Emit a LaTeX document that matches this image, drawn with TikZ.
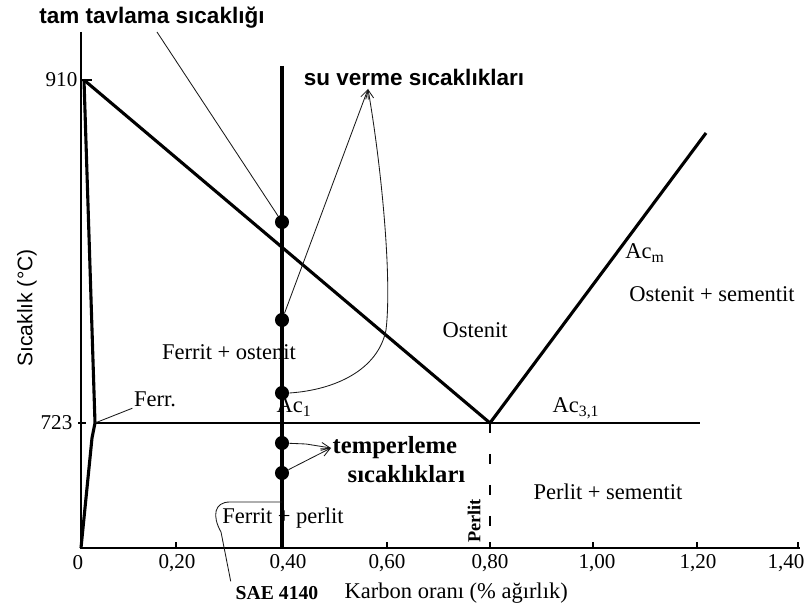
\documentclass[tikz,border=0pt]{standalone}
\usepackage{fontspec}
\setmainfont{Liberation Serif}
\setsansfont{Liberation Sans}
\usetikzlibrary{arrows.meta,positioning,calc}
\definecolor{phaseink}{RGB}{0,0,0}
\definecolor{leaderink}{RGB}{25,25,25}
\tikzset{
  boundary/.style={line width=2.2pt, draw=phaseink},
  axisline/.style={line width=1.3pt, draw=phaseink},
  leader/.style={line width=0.6pt, draw=leaderink},
  barb/.style={-{Straight Barb[length=2.2mm,width=2mm]}},
  heat/.style={circle, fill=phaseink, inner sep=0pt, minimum size=10pt},
  phase/.style={font=\fontsize{16}{18}\selectfont, inner sep=1pt},
  ticklbl/.style={font=\fontsize{15}{17}\selectfont, inner sep=1pt},
  callout/.style={font=\sffamily\bfseries\fontsize{16}{18}\selectfont, inner sep=1pt},
  note/.style={font=\bfseries\fontsize{17.5}{19}\selectfont, inner sep=1pt}
}

\begin{document}
\begin{tikzpicture}[x=0.025cm, y=-0.025cm]
  \useasboundingbox (0,0) rectangle (808,615);

  % axes
  \coordinate (ytop) at (81,32);
  \coordinate (orig) at (81,548);
  \coordinate (xend) at (800,548);
  \draw[axisline] (ytop) -- (orig) -- (xend);
  \foreach \x/\lx/\lbl in {176/177/{0,20},282/288/{0,40},387/387/{0,60},490/490/{0,80},593/597/{1,00},697/698/{1,20},798/786/{1,40}} {
    \draw[axisline] (\x,548) -- (\x,542);
    \node[ticklbl] (xl\x) at (\lx,563) {\lbl};
  }
  \node[ticklbl] (xl0) at (78,563) {0};
  \node[ticklbl, anchor=east] (t910) at (79,80) {910};
  \node[ticklbl, anchor=east] (t723) at (74,423) {723};
  \draw[axisline] (81,80) -- (92,80);
  \draw[axisline] (78,423) -- (86,423);
  \node[font=\sffamily\fontsize{15}{17}\selectfont, rotate=90] (ylab) at (27,308) {Sıcaklık (°C)};
  \node[phase, anchor=west] (xlab) at (343,593) {Karbon oranı (\% ağırlık)};

  % phase boundaries
  \coordinate (a910) at (84,80);
  \coordinate (a723) at (95,423);
  \coordinate (akink) at (92,438);
  \coordinate (eut) at (490,423);
  \coordinate (acmtop) at (706,133);
  \coordinate (a1end) at (700,423);
  \draw[boundary] (a910) -- (eut) -- (acmtop);
  \draw[boundary] (a910) -- (a723) -- (akink) -- (orig);
  \draw[axisline] (a723) -- (a1end);
  \draw[axisline, dash pattern=on 7pt off 15pt] (eut) -- (eut |- orig);

  % SAE 4140 line and heat points
  \coordinate (steeltop) at (282,66);
  \draw[boundary] (steeltop) -- (steeltop |- orig);
  \node[heat] (q1) at (282,222) {};
  \node[heat] (q2) at (282,320) {};
  \node[heat] (q3) at (282,393) {};
  \node[heat] (t1) at (282,443) {};
  \node[heat] (t2) at (282,473) {};

  % region labels
  \node[phase] (fo) at (229,352) {Ferrit + ostenit};
  \node[phase] (ferr) at (155,399) {Ferr.};
  \node[phase] (ac1) at (294,407) {Ac\textsubscript{1}};
  \node[phase] (ost) at (475,330) {Ostenit};
  \node[phase] (acm) at (645,253) {Ac\textsubscript{m}};
  \node[phase] (os) at (712,294) {Ostenit + sementit};
  \node[phase] (ac31) at (576,408) {Ac\textsubscript{3,1}};
  \node[phase] (ps) at (608,492) {Perlit + sementit};
  \node[phase] (fp) at (283,518) {Ferrit + perlit};
  \node[font=\bfseries\fontsize{13}{15}\selectfont, rotate=90] (perl) at (474,521) {Perlit};
  \draw[leader] (ferr.south west) -- (a723);

  % callouts
  \node[callout] (tam) at (152,18) {tam tavlama sıcaklığı};
  \node[callout] (suv) at (414,77) {su verme sıcaklıkları};
  \coordinate (tamfoot) at (157,32);
  \coordinate (sutip) at (368,89);
  \draw[leader] (tamfoot) -- (q1);
  \draw[leader, barb] (q2) -- (sutip);
  \draw[leader, barb] (q3.east) .. controls (335,390) and (378,370) .. (386,330)
    .. controls (392,280) and (382,170) .. (sutip);

  \node[note, anchor=west] (temp) at (331,448) {temperleme};
  \node[note, anchor=west] (tempb) at (346,474) {sıcaklıkları};
  \draw[leader, barb] (t1) -- ++(24,1) -- (temp.west);
  \draw[leader, barb] (t2) -- (temp.west);

  \node[font=\bfseries\fontsize{14}{16}\selectfont] (sae) at (277,593) {SAE 4140};
  \coordinate (saefoot) at (282,502);
  \draw[leader] (saefoot) -- (230,502) .. controls (214,502) and (212,516) .. (221,532)
    -- (sae.north west);
\end{tikzpicture}
\end{document}
